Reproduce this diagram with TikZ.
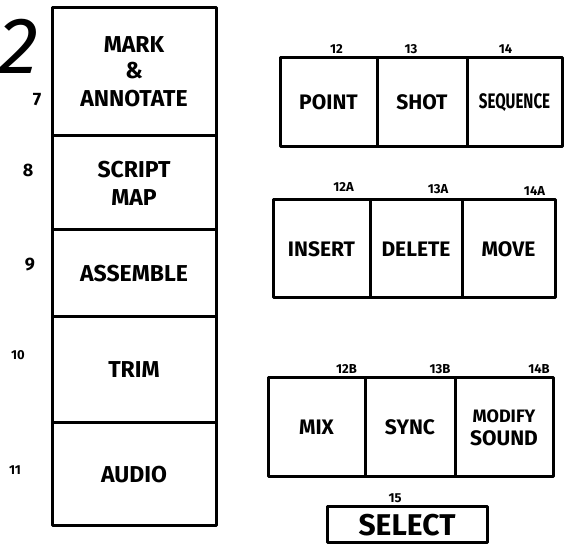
\documentclass[tikz,border=0pt]{standalone}
\usepackage{fontspec}
\setmainfont{Fira Sans}
\usetikzlibrary{positioning}

\tikzset{
  cell/.style 2 args={draw, line width=3pt, line join=round, outer sep=0pt,
    inner sep=0pt, minimum width=#1, minimum height=#2, align=center,
    font=\bfseries\fontsize{21}{23}\selectfont},
  num/.style={font=\bfseries\fontsize{13}{13}\selectfont, inner sep=1pt},
  bignum/.style={font=\bfseries\fontsize{18}{18}\selectfont, inner sep=0pt},
  colfont/.style={font=\bfseries\fontsize{23}{26}\selectfont},
  every label/.style={label distance=3pt}
}

\begin{document}
\begin{tikzpicture}[x=1pt,y=-1pt]
  \clip (0,0) rectangle (574,556);
  \fill[white] (0,0) rectangle (574,556);
  % figure number
  \node[font=\itshape\fontsize{80}{80}\selectfont, inner sep=0pt] (fig) at (19,46) {2};

  % left column
  \node[cell={164pt}{128pt}, colfont] (mark) at (134,72) {MARK\\[0pt]\&\\[2pt]ANNOTATE};
  \node[cell={164pt}{94pt}, colfont, below=0pt of mark] (script) {SCRIPT\\[2pt]MAP};
  \node[cell={164pt}{87pt}, colfont, below=0pt of script] (assemble) {ASSEMBLE};
  \node[cell={164pt}{106pt}, colfont, below=0pt of assemble] (trim) {TRIM};
  \node[cell={164pt}{103pt}, colfont, below=0pt of trim] (audio) {AUDIO};

  \node[bignum] (n7) at (37,100) {7};
  \node[bignum] (n8) at (28,170) {8};
  \node[bignum] (n9) at (30,265) {9};
  \node[num] (n10) at (18,355) {10};
  \node[num] (n11) at (15,470) {11};

  % first row
  \node[cell={97pt}{89pt}, label={[num, xshift=8pt]above:12}] (point) at (328.5,102.5) {POINT};
  \node[cell={90pt}{89pt}, label={[num, xshift=-11pt]above:13}, right=0pt of point] (shot) {SHOT};
  \node[cell={95pt}{89pt}, label={[num, xshift=-9pt]above:14}, right=0pt of shot] (sequence)
    {\scalebox{0.72}[1]{SEQUENCE}};

  % second row
  \node[cell={97pt}{98pt}, label={[num, xshift=22pt, label distance=7pt]above:12A}] (insert) at (321.5,249) {INSERT};
  \node[cell={92pt}{98pt}, label={[num, xshift=22pt, label distance=5pt]above:13A}, right=0pt of insert] (delete) {DELETE};
  \node[cell={93pt}{98pt}, label={[num, xshift=26pt]above:14A}, right=0pt of delete] (move) {MOVE};

  % third row
  \node[cell={97pt}{99pt}, label={[num, xshift=30pt]above:12B}] (mix) at (316.5,427.5) {MIX};
  \node[cell={90pt}{99pt}, label={[num, xshift=30pt]above:13B}, right=0pt of mix] (sync) {SYNC};
  \node[cell={98pt}{99pt}, label={[num, xshift=35pt]above:14B}, right=0pt of sync] (modify)
    {\fontsize{18}{20}\selectfont MODIFY\\SOUND};

  % select
  \node[cell={160pt}{36pt}, font=\bfseries\fontsize{30}{30}\selectfont,
    label={[num, xshift=-12pt]above:15}] (select) at (407,525) {SELECT};
\end{tikzpicture}
\end{document}
